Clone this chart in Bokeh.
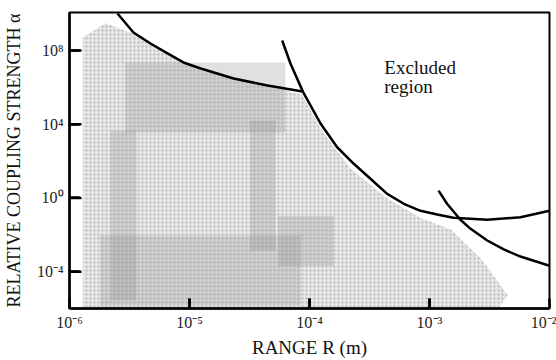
import math
from bokeh.plotting import figure
from bokeh.models import Range1d, FixedTicker, CustomJSTickFormatter, Label
from bokeh.embed import file_html
from bokeh.resources import INLINE

# ---- data (range R in metres, coupling strength alpha) ----
curve1_R = [2.51e-6, 3.41e-6, 4.73e-6, 6.56e-6, 8.9e-6, 1.24e-5, 2.33e-5, 4.47e-5, 8.75e-5]
curve1_alpha = [1.02e10, 9.5e8, 2.4e8, 6.9e7, 2.24e7, 1.05e7, 3.0e6, 1.26e6, 5.9e5]

curve2_R = [5.92e-5, 6.95e-5, 8.85e-5, 1.24e-4, 1.70e-4, 2.34e-4, 3.22e-4, 4.44e-4,
            6.11e-4, 8.41e-4, 1.16e-3, 1.58e-3, 3.03e-3, 5.73e-3, 1.0e-2]
curve2_alpha = [3.47e8, 1.9e7, 5.5e5, 1.05e4, 562, 71, 11, 1.66,
                0.48, 0.2, 0.126, 0.083, 0.065, 0.089, 0.2]

curve3_R = [1.19e-3, 1.40e-3, 1.81e-3, 2.2e-3, 3.03e-3, 4.16e-3, 5.73e-3, 1.0e-2]
curve3_alpha = [2.5, 0.48, 0.065, 0.021, 4.9e-3, 1.6e-3, 6.6e-4, 2.1e-4]

# allowed (shaded) region boundary
allowed_R = [1.29e-6, 2.0e-6, 3.4e-6, 6.6e-6, 1.25e-5, 4.5e-5, 8.7e-5, 1.23e-4,
             2.2e-4, 4.4e-4, 8.5e-4, 1.5e-3, 2.7e-3, 4.5e-3, 3.8e-3, 1.29e-6]
allowed_alpha = [5e8, 3e9, 8e8, 6e7, 8e6, 1.2e6, 4e5, 6e3,
                 4e1, 1.0, 0.08, 0.02, 5e-4, 5e-6, 1.2e-6, 1.2e-6]

# denser stippled bands inside the shaded region
dense_left = [2.9e-6, 2.2e-6, 3.2e-5, 1.8e-6, 5.5e-5]
dense_right = [6.3e-5, 3.6e-6, 5.2e-5, 8.5e-5, 1.6e-4]
dense_bottom = [3.5e3, 2.7e-6, 1.4e-3, 1.5e-6, 2e-4]
dense_top = [2.2e7, 4.5e3, 1.6e4, 9e-3, 1e-1]

x_ticks = [1e-6, 1e-5, 1e-4, 1e-3, 1e-2]
y_ticks = [1e-4, 1e0, 1e4, 1e8]
x_min, x_max = 1e-6, 1e-2
y_min, y_max = 1e-6, 1.15e10

SERIF = "Liberation Serif"

p = figure(width=556, height=360, x_axis_type="log", y_axis_type="log",
           x_range=Range1d(x_min, x_max), y_range=Range1d(y_min, y_max),
           output_backend="svg", toolbar_location=None,
           min_border_left=69, min_border_right=7, min_border_top=12, min_border_bottom=52)

p.xgrid.visible = False
p.ygrid.visible = False
p.background_fill_color = "white"
p.outline_line_color = "black"
p.outline_line_width = 2

p.patch(allowed_R, allowed_alpha, fill_color="#e6e6e6", line_color=None,
        hatch_pattern="dot", hatch_color="#b0b0b0", hatch_scale=4, hatch_weight=1)
p.quad(left=dense_left, right=dense_right, bottom=dense_bottom, top=dense_top,
       fill_color="#909090", fill_alpha=0.28, line_color=None)

for xs, ys in [(curve1_R, curve1_alpha), (curve2_R, curve2_alpha), (curve3_R, curve3_alpha)]:
    p.line(xs, ys, line_color="black", line_width=2.5)

# inward tick marks (half of each dash is clipped away by the frame)
p.scatter(x=x_ticks[1:-1], y=[y_min] * (len(x_ticks) - 2), marker="dash", size=20,
          angle=math.pi / 2, line_color="black", line_width=2.5)
p.scatter(x=[x_min] * len(y_ticks), y=y_ticks, marker="dash", size=24,
          line_color="black", line_width=2.5)

p.add_layout(Label(x=4.2e-4, y=1.15e7, text="Excluded", text_font=SERIF,
                   text_font_size="19px", text_color="#111111", text_baseline="alphabetic"))
p.add_layout(Label(x=4.2e-4, y=1.05e6, text="region", text_font=SERIF,
                   text_font_size="19px", text_color="#111111", text_baseline="alphabetic"))

fmt = CustomJSTickFormatter(code="""
const e = Math.round(Math.log10(tick));
const sup = {'-':'\u207b','0':'\u2070','1':'\u00b9','2':'\u00b2','3':'\u00b3','4':'\u2074',
             '5':'\u2075','6':'\u2076','7':'\u2077','8':'\u2078','9':'\u2079'};
return '10' + String(e).split('').map(c => sup[c]).join('');
""")

p.xaxis.ticker = FixedTicker(ticks=x_ticks)
p.yaxis.ticker = FixedTicker(ticks=y_ticks)
for ax in (p.xaxis, p.yaxis):
    ax.formatter = fmt
    ax.axis_line_width = 2.5
    ax.major_tick_line_width = 2.5
    ax.major_tick_line_color = "black"
    ax.major_tick_in = 10
    ax.major_tick_out = 0
    ax.minor_tick_line_color = None
    ax.major_label_text_font = SERIF
    ax.major_label_text_font_size = "16px"
    ax.major_label_text_color = "#222222"
    ax.axis_label_text_font = SERIF
    ax.axis_label_text_font_size = "18px"
    ax.axis_label_text_font_style = "normal"
    ax.axis_label_text_color = "#111111"

p.xaxis.axis_label_text_font_size = "19px"
p.xaxis.axis_label = "RANGE R (m)"
p.yaxis.axis_label = "RELATIVE COUPLING STRENGTH \u03b1"
p.xaxis.major_label_standoff = 5
p.xaxis.axis_label_standoff = 3
p.yaxis.major_label_standoff = 6
p.yaxis.axis_label_standoff = 10

open("out.html", "w").write(file_html(p, INLINE))
